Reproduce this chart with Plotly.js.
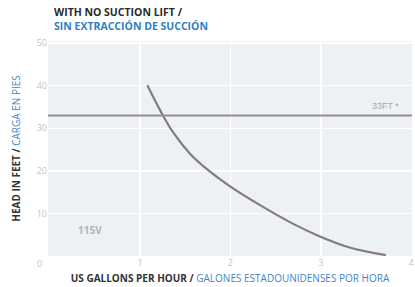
<!DOCTYPE html>
<html><head><meta charset="utf-8">
<script src="https://cdn.plot.ly/plotly-3.0.1.min.js"></script>
<style>html,body{margin:0;padding:0;background:#fff}#chart{width:415px;height:287px}</style>
</head><body><div id="chart"></div>
<script>
// Pump curve (US gallons per hour vs head in feet)
const flowGph = [1.08, 1.24, 1.37, 1.55, 1.74, 2.00, 2.30, 2.69, 2.99, 3.32, 3.72];
const headFt  = [40.1, 33.5, 28.9, 24.1, 20.4, 16.3, 12.3, 7.6, 4.6, 2.0, 0.2];
const limitHead = 33;
const xTickVals = [1, 2, 3, 4];
const yTickVals = [10, 20, 30, 40, 50];
const limitLabel = "33FT *";
const voltageLabel = "115V";
const titleLine1 = "WITH NO SUCTION LIFT /";
const titleLine2 = "SIN EXTRACCIÓN DE SUCCIÓN";

const trace = {
  x: flowGph, y: headFt, mode: 'lines', type: 'scatter',
  line: {color: '#857b7c', width: 2.2, shape: 'spline', smoothing: 1},
  hoverinfo: 'skip'
};

const tickFont = {family: 'Open Sans, sans-serif', size: 9, color: '#c4c4c4'};
const axisTitleFont = {family: 'Open Sans, sans-serif', size: 10, color: '#333333'};

const layout = {
  width: 415, height: 287,
  margin: {l: 48, r: 3, t: 41, b: 31, pad: 0},
  paper_bgcolor: '#ffffff', plot_bgcolor: '#eef1f4',
  showlegend: false,
  font: {family: 'Open Sans, sans-serif'},
  xaxis: {
    range: [-0.02, 4.01], tickvals: xTickVals, ticktext: xTickVals.map(String),
    showgrid: true, gridcolor: '#ffffff', gridwidth: 1.5,
    zeroline: false, showline: false, ticks: '', tickfont: tickFont,
    title: {text: '<b>US GALLONS PER HOUR /</b> <span style="color:#3f86c6">GALONES ESTADOUNIDENSES POR HORA</span>',
            font: axisTitleFont, standoff: 6}
  },
  yaxis: {
    range: [0, 50.5], tickvals: yTickVals, ticktext: yTickVals.map(String),
    showgrid: true, gridcolor: '#ffffff', gridwidth: 1.5,
    zeroline: false, showline: false, ticks: '', tickfont: tickFont,
    title: {text: '<b>HEAD IN FEET /</b> <span style="color:#3f86c6">CARGA EN PIES</span>',
            font: axisTitleFont, standoff: 14}
  },
  shapes: [{
    type: 'line', xref: 'paper', x0: 0, x1: 1, yref: 'y', y0: limitHead, y1: limitHead,
    line: {color: '#978b8b', width: 2}
  }],
  annotations: [
    {xref: 'paper', yref: 'paper', x: 0.011, y: 1.1372, xanchor: 'left', yanchor: 'middle',
     showarrow: false, text: '<b>' + titleLine1 + '</b>',
     font: {family: 'Open Sans, sans-serif', size: 10.5, color: '#2a2a2a'}},
    {xref: 'paper', yref: 'paper', x: 0.011, y: 1.0698, xanchor: 'left', yanchor: 'middle',
     showarrow: false, text: '<b>' + titleLine2 + '</b>',
     font: {family: 'Open Sans, sans-serif', size: 10.5, color: '#2f7fc4'}},
    {xref: 'x', yref: 'y', x: 3.89, y: limitHead + 2.2, xanchor: 'right', yanchor: 'middle',
     showarrow: false, text: limitLabel, font: {family: 'Liberation Sans, sans-serif', size: 9, color: '#a8a8a8'}},
    {xref: 'x', yref: 'y', x: 0.45, y: 6.1, xanchor: 'center', yanchor: 'middle',
     showarrow: false, text: '<b>' + voltageLabel + '</b>', font: {family: 'Open Sans, sans-serif', size: 10, color: '#b4b4b4'}},
    {xref: 'paper', yref: 'paper', x: -0.022, y: -0.033, xanchor: 'center', yanchor: 'middle',
     showarrow: false, text: '0', font: tickFont}
  ]
};

Plotly.newPlot('chart', [trace], layout, {displayModeBar: false, staticPlot: true});
</script></body></html>
